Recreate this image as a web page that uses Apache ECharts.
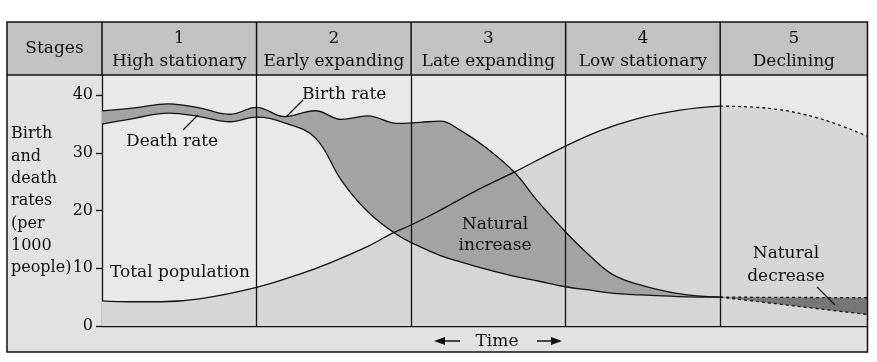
<!DOCTYPE html>
<html>
<head>
<meta charset="utf-8">
<script src="https://cdn.jsdelivr.net/npm/echarts@6/dist/echarts.min.js"></script>
<style>html,body{margin:0;padding:0;background:#fff;}#c{width:877px;height:362px;}</style>
</head>
<body>
<div id="c"></div>
<script>
// ---- data (x in stage units: stage k spans k-1 .. k) ----
const stageNums = ['1', '2', '3', '4', '5'];
const stageNames = ['High stationary', 'Early expanding', 'Late expanding', 'Low stationary', 'Declining'];
const yTicks = [0, 10, 20, 30, 40];
const rateX = [0, 0.21, 0.43, 0.63, 0.83, 1.0, 1.18, 1.38, 1.55, 1.72, 1.91, 2.06, 2.19, 2.32, 2.49, 2.67, 2.82, 3.0, 3.16, 3.3, 3.47, 3.73, 4.0];
const birthRate = [37.3, 37.8, 38.5, 37.8, 36.7, 37.9, 36.3, 37.3, 35.8, 36.4, 35.1, 35.3, 35.5, 33.9, 30.8, 26.6, 21.6, 16.3, 12.1, 9.0, 7.2, 5.6, 5.0];
const deathRate = [35.0, 36.0, 36.9, 36.3, 35.4, 36.2, 35.2, 32.6, 25.2, 19.8, 15.8, 13.7, 12.2, 11.1, 9.8, 8.6, 7.8, 6.8, 6.2, 5.7, 5.4, 5.1, 5.0];
const popX = [0, 0.18, 0.38, 0.63, 1.0, 1.28, 1.48, 1.72, 1.88, 2.0, 2.17, 2.41, 2.67, 2.94, 3.22, 3.46, 3.74, 4.0];
const population = [4.35, 4.2, 4.2, 4.7, 6.7, 9.0, 11.0, 13.8, 16.1, 17.5, 19.8, 23.3, 26.7, 30.4, 33.8, 35.9, 37.4, 38.1];
const futureX = [4.0, 4.95];
const futureBirth = [5.0, 2.0];
const futureDeath = [5.0, 4.9];
const popFutureX = [4.0, 4.32, 4.65, 4.95];
const popFuture = [38.1, 37.7, 35.9, 32.9];

const FONT = 'DejaVu Serif';
const zip = (xs, ys) => xs.map((x, i) => [x, ys[i]]);
// value first, x second: so the stack is taken on the y value (encode maps them back)
const zipYX = (xs, ys) => xs.map((x, i) => [ys[i], x]);
const encYX = {x: 1, y: 0};

const chart = echarts.init(document.getElementById('c'), null, {renderer: 'canvas'});
const black = '#111';
const lw = 1.3;
const dash = {type: [3, 3]};

chart.setOption({
  animation: false,
  backgroundColor: '#ffffff',
  grid: {left: 102, right: 10, top: 75, bottom: 36, show: false},
  xAxis: {
    type: 'value', min: 0, max: 4.95, interval: 1,
    axisLine: {show: true, onZero: false, lineStyle: {color: black, width: lw}},
    axisTick: {show: false}, axisLabel: {show: false}, splitLine: {show: false}
  },
  yAxis: {
    type: 'value', min: 0, max: 43.5, interval: 10,
    axisLine: {show: true, lineStyle: {color: black, width: lw}},
    axisTick: {show: true, length: 6, inside: false, lineStyle: {color: black, width: lw}, customValues: yTicks},
    axisLabel: {show: true, margin: 9, color: black, fontSize: 16, fontFamily: FONT, customValues: yTicks,
      formatter: v => (yTicks.indexOf(v) >= 0 ? String(v) : '')},
    splitLine: {show: false}
  },
  series: [
    {type: 'line', name: 'popFill', data: zip(popX, population), smooth: 0.4, symbol: 'none', z: 1,
      lineStyle: {width: 0}, areaStyle: {color: '#d6d6d6', opacity: 1}, silent: true},
    {type: 'line', name: 'popFutureFill', data: zip(popFutureX, popFuture), smooth: 0.4, symbol: 'none', z: 1,
      lineStyle: {width: 0}, areaStyle: {color: '#d6d6d6', opacity: 1}, silent: true},
    {type: 'line', name: 'Death rate', stack: 'r', encode: encYX, data: zipYX(rateX, deathRate), smooth: 0.4, symbol: 'none', z: 2,
      lineStyle: {color: black, width: lw}, silent: true},
    {type: 'line', name: 'Birth rate', stack: 'r', encode: encYX, data: zipYX(rateX, birthRate.map((b, i) => b - deathRate[i])),
      smooth: 0.4, symbol: 'none', z: 2,
      lineStyle: {color: black, width: lw}, areaStyle: {color: '#a3a3a3', opacity: 1}, silent: true},
    {type: 'line', name: 'Future birth', stack: 'f', encode: encYX, data: zipYX(futureX, futureBirth), symbol: 'none', z: 2,
      lineStyle: Object.assign({color: black, width: lw}, dash), silent: true},
    {type: 'line', name: 'Future death', stack: 'f', encode: encYX, data: zipYX(futureX, futureDeath.map((d, i) => d - futureBirth[i])),
      symbol: 'none', z: 2,
      lineStyle: Object.assign({color: black, width: lw}, dash), areaStyle: {color: '#777777', opacity: 1}, silent: true},
    {type: 'line', name: 'Total population', data: zip(popX, population), smooth: 0.4, symbol: 'none', z: 3,
      lineStyle: {color: black, width: lw}, silent: true,
      markLine: {silent: true, symbol: 'none', label: {show: false}, lineStyle: {color: black, width: lw, type: 'solid'},
        data: [{xAxis: 1}, {xAxis: 2}, {xAxis: 3}, {xAxis: 4}]}},
    {type: 'line', name: 'Future population', data: zip(popFutureX, popFuture), smooth: 0.4, symbol: 'none', z: 3,
      lineStyle: Object.assign({color: black, width: lw}, dash), silent: true}
  ]
});

// ---- frame, header and annotations ----
const L = 7, T = 22, R = 867.5, B = 352, H = 75;
const px = v => chart.convertToPixel({xAxisIndex: 0}, v);
const py = v => chart.convertToPixel({yAxisIndex: 0}, v);
const x0 = px(0), yBase = py(0);
const txt = (x, y, s, align, size) => ({
  type: 'text', x: x, y: y, z: 100,
  style: {text: s, fill: black, font: (size || 17) + 'px "' + FONT + '"', align: align || 'left', verticalAlign: 'middle'}
});
const line = (x1, y1, x2, y2, w) => ({type: 'line', z: 100, shape: {x1, y1, x2, y2}, style: {stroke: black, lineWidth: w || lw}});

const els = [
  {type: 'rect', z: -12, shape: {x: L, y: T, width: R - L, height: B - T}, style: {fill: '#e2e2e2'}},
  {type: 'rect', z: -11, shape: {x: L, y: T, width: R - L, height: H - T}, style: {fill: '#c2c2c2'}},
  {type: 'rect', z: -11, shape: {x: x0, y: H, width: R - x0, height: yBase - H}, style: {fill: '#e9e9e9'}},
  {type: 'rect', z: 100, shape: {x: L, y: T, width: R - L, height: B - T}, style: {fill: null, stroke: black, lineWidth: 1.5}},
  line(L, H, R, H, 1.5),
  line(x0, T, x0, H, 1.5),
  txt((L + x0) / 2, 49, 'Stages', 'center')
];
for (let i = 0; i < 5; i++) {
  const a = px(i), b = i < 4 ? px(i + 1) : R;
  if (i > 0) els.push(line(a, T, a, H, 1.5));
  els.push(txt((a + b) / 2, 39, stageNums[i], 'center'));
  els.push(txt((a + b) / 2, 62, stageNames[i], 'center'));
}
els.push({type: 'text', x: 11, y: 123, z: 100,
  style: {text: 'Birth\nand\ndeath\nrates\n(per\n1000\npeople)', fill: black, font: '16px "' + FONT + '"',
    lineHeight: 22.3, align: 'left', verticalAlign: 'top'}});
els.push(txt(302, 95, 'Birth rate'));
els.push(line(303, 100, 286, 117, 1.2));
els.push(txt(126, 142, 'Death rate'));
els.push(line(183, 130, 198, 115, 1.2));
els.push(txt(110, 273, 'Total population'));
els.push({type: 'text', x: 495, y: 235, z: 100,
  style: {text: 'Natural\nincrease', fill: black, font: '17px "' + FONT + '"', lineHeight: 21, align: 'center', verticalAlign: 'middle'}});
els.push({type: 'text', x: 786, y: 265, z: 100,
  style: {text: 'Natural\ndecrease', fill: black, font: '17px "' + FONT + '"', lineHeight: 23, align: 'center', verticalAlign: 'middle'}});
els.push(line(817, 287, 835, 305, 1.2));
els.push(txt(497, 342, 'Time', 'center'));
els.push(line(440, 341, 460, 341, 1.5));
els.push({type: 'polygon', z: 100, shape: {points: [[434, 341], [445, 337], [445, 345]]}, style: {fill: black}});
els.push(line(537, 341, 556, 341, 1.5));
els.push({type: 'polygon', z: 100, shape: {points: [[562, 341], [551, 337], [551, 345]]}, style: {fill: black}});

chart.setOption({graphic: {elements: els}});
</script>
</body>
</html>
